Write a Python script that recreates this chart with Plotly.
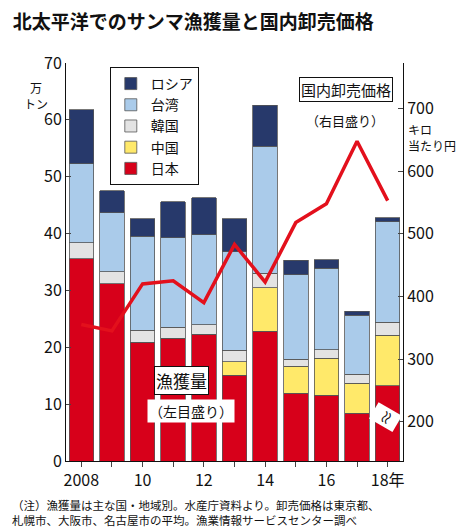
import plotly.graph_objects as go

years = ["2008", "2009", "2010", "2011", "2012", "2013", "2014", "2015", "2016", "2017", "2018"]
tick_labels = ["2008", "", "10", "", "12", "", "14", "", "16", "", "18年"]

# 漁獲量 (万トン) stacked
japan = [35.6, 31.2, 20.9, 21.6, 22.3, 15.1, 22.8, 11.9, 11.6, 8.4, 13.2]
china = [0.0, 0.0, 0.0, 0.0, 0.0, 2.4, 7.7, 4.8, 6.5, 5.3, 8.9]
korea = [2.8, 2.1, 2.1, 1.9, 1.7, 2.0, 2.5, 1.2, 1.5, 1.6, 2.3]
taiwan = [13.9, 10.4, 16.5, 15.8, 15.8, 17.3, 22.4, 14.9, 14.3, 10.3, 17.7]
russia = [9.5, 3.8, 3.1, 6.3, 6.5, 5.8, 7.2, 2.5, 1.5, 0.7, 0.7]

# 国内卸売価格 (キロ当たり円)
price = [355, 345, 420, 425, 390, 483, 423, 518, 548, 648, 553]

fig = go.Figure()
series = [("日本", japan, "#d7001a"), ("中国", china, "#ffe96a"),
          ("韓国", korea, "#e3e3e3"), ("台湾", taiwan, "#aacbea"),
          ("ロシア", russia, "#27396b")]
for name, vals, col in series:
    fig.add_trace(go.Bar(x=years, y=vals, name=name, marker_color=col,
                         marker_line=dict(color="#555", width=0.8)))

fig.add_trace(go.Scatter(x=years, y=price, yaxis="y2", mode="lines",
                         line=dict(color="#e3101c", width=3.5), showlegend=False))

fig.update_layout(
    width=470, height=530,
    barmode="stack", bargap=0.2,
    margin=dict(l=58, r=75, t=55, b=77),
    plot_bgcolor="white", paper_bgcolor="white",
    font=dict(family="Noto Sans CJK JP", size=14, color="#111"),
    xaxis=dict(tickvals=years, ticktext=tick_labels, showline=True,
               linecolor="#111", ticks="outside", tickfont=dict(size=16)),
    yaxis=dict(range=[0, 70], tickvals=list(range(0, 71, 10)), showgrid=False,
               showline=True, linecolor="#111", ticks="inside", tickfont=dict(size=16)),
    yaxis2=dict(overlaying="y", side="right", range=[137, 773],
                tickvals=[200, 300, 400, 500, 600, 700], showgrid=False,
                showline=True, linecolor="#111", ticks="inside", tickfont=dict(size=16)),
    legend=dict(x=0.13, y=0.99, xanchor="left", yanchor="top", traceorder="reversed",
                bordercolor="#111", borderwidth=1, bgcolor="white",
                font=dict(size=14)),
    title=dict(text="<b>北太平洋でのサンマ漁獲量と国内卸売価格</b>", x=0.01, y=0.985,
               xanchor="left", yanchor="top", font=dict(size=19)),
)

fig.add_annotation(text="万<br>トン", xref="paper", yref="paper", x=-0.09, y=0.965,
                   xanchor="center", yanchor="top", showarrow=False,
                   font=dict(size=12))
fig.add_annotation(text="キロ<br>当たり円", xref="paper", yref="paper", x=1.01, y=0.86,
                   xanchor="left", yanchor="top", showarrow=False, align="left",
                   font=dict(size=12), bgcolor="white")
fig.add_annotation(text="国内卸売価格", xref="paper", yref="paper", x=0.97, y=0.965,
                   xanchor="right", showarrow=False, bordercolor="#111",
                   borderwidth=1, bgcolor="white", font=dict(size=15))
fig.add_annotation(text="（右目盛り）", xref="paper", yref="paper", x=0.95, y=0.885,
                   xanchor="right", showarrow=False, bgcolor="white", font=dict(size=13))
fig.add_annotation(text="漁獲量", xref="paper", yref="paper", x=0.26, y=0.165,
                   showarrow=False, bordercolor="#111", borderwidth=1,
                   bgcolor="white", font=dict(size=17))
fig.add_annotation(text="（左目盛り）", xref="paper", yref="paper", x=0.24, y=0.095,
                   showarrow=False, bgcolor="white", font=dict(size=14))
fig.add_annotation(text="≈", xref="paper", yref="paper", x=1.0, y=0.07,
                   showarrow=False, font=dict(size=16), textangle=-60, bgcolor="white")
fig.add_annotation(text="（注）漁獲量は主な国・地域別。水産庁資料より。卸売価格は東京都、<br>"
                        "札幌市、大阪市、名古屋市の平均。漁業情報サービスセンター調べ",
                   xref="paper", yref="paper", x=-0.165, y=-0.085, xanchor="left",
                   yanchor="top", align="left", showarrow=False, font=dict(size=11.5))

fig.write_html("out.html")
